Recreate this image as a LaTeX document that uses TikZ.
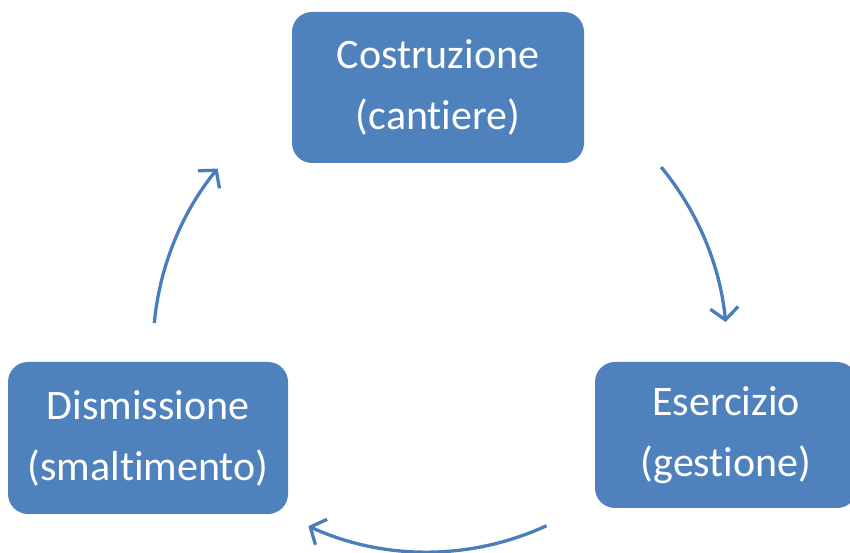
\documentclass[tikz,border=0pt]{standalone}
\usepackage{fontspec}
\setmainfont{Carlito}[Ligatures={NoCommon}]
\usetikzlibrary{arrows.meta}
\definecolor{boxblue}{HTML}{4F81BD}
\definecolor{arrblue}{HTML}{4A7EBB}
\begin{document}
\begin{tikzpicture}[x=1pt,y=1pt,
  phase/.style={fill=boxblue, draw=none, rounded corners=20pt, text=white,
    align=center, inner sep=0pt,
    font=\fontsize{42}{61}\selectfont},
  cyc/.style={draw=arrblue, line width=3.3pt,
    -{Straight Barb[length=12pt,width=28pt,line width=3.3pt]}}]
\useasboundingbox (0,0) rectangle (850,553);
\fill[white] (0,0) rectangle (850,553);
\begin{scope}
\clip (0,0) rectangle (850,553);
\node[phase, minimum width=292pt, minimum height=151pt] (costr) at (438,465.5)
  {Costruzione\\(cantiere)};
\node[phase, minimum width=280pt, minimum height=152pt] (dism) at (148,115)
  {Dismissione\\(smaltimento)};
\node[phase, minimum width=262pt, minimum height=146pt] (eserc) at (726,118)
  {Esercizio\\(gestione)};
\end{scope}
\coordinate (a1) at ({440+287*cos(39.6)},{203+287*sin(39.6)});
\coordinate (a2) at ({427+285*cos(-65.2)},{286+285*sin(-65.2)});
\coordinate (a3) at ({440+287*cos(174.6)},{203+287*sin(174.6)});
\draw[cyc] (a1) arc[start angle=39.6, end angle=5.6, radius=287];
\draw[cyc] (a2) arc[start angle=-65.2, end angle=-114.6, radius=285];
\draw[cyc] (a3) arc[start angle=174.6, end angle=140.8, radius=287];
\end{tikzpicture}
\end{document}
